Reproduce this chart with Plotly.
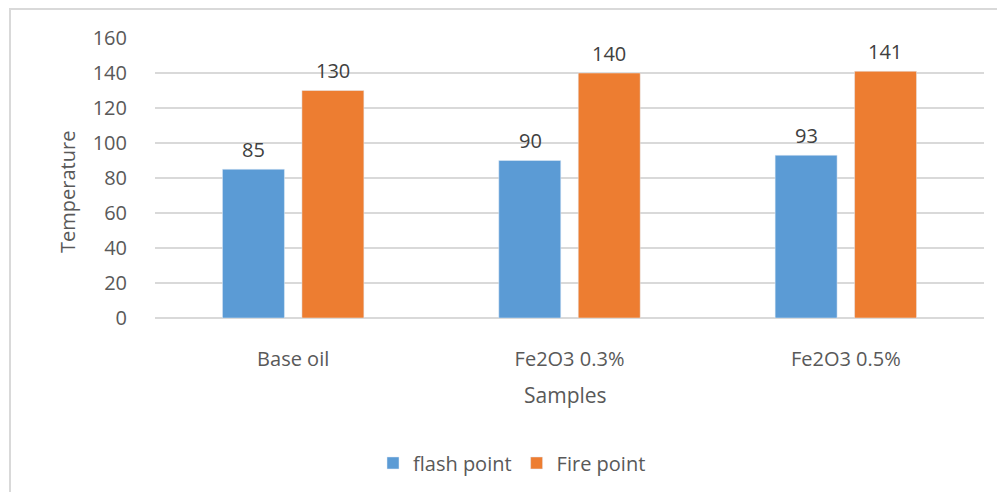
import plotly.graph_objects as go

categories = ["Base oil", "Fe2O3 0.3%", "Fe2O3 0.5%"]
flash_point = [85, 90, 93]
fire_point = [130, 140, 141]
y_ticks = [0, 20, 40, 60, 80, 100, 120, 140, 160]

# page body has an 8px margin; figure coordinates = screen coordinates - 8
OFF = 8
W, H = 1005 - OFF, 492 - OFF
L = 155 - OFF
T = 37.5 - OFF
plot_right = 984 - OFF
plot_bottom = 318.5 - OFF
R = W - plot_right
B = H - plot_bottom
pw, ph = W - L - R, H - T - B

def px(sx):
    return (sx - OFF - L) / pw

def py(sy):
    return (plot_bottom - (sy - OFF)) / ph

FONT = "Open Sans"
TXT = "#595959"
FS = 20

fig = go.Figure()
fig.add_trace(go.Bar(name="flash point", x=categories, y=flash_point, marker_color="#5b9bd5"))
fig.add_trace(go.Bar(name="Fire point", x=categories, y=fire_point, marker_color="#ed7d31"))

fig.update_layout(
    width=W, height=H,
    margin=dict(l=L, r=R, t=T, b=B, autoexpand=False),
    paper_bgcolor="white", plot_bgcolor="white",
    barmode="group", bargap=0.425, bargroupgap=0.22,
    font=dict(family=FONT, color=TXT, size=FS),
    showlegend=True,
    legend=dict(orientation="h", x=px(512), xanchor="center",
                y=py(464), yanchor="middle",
                font=dict(size=FS, color=TXT), itemwidth=30,
                traceorder="normal"),
    xaxis=dict(showgrid=False, showline=False, zeroline=False, ticks="",
               tickfont=dict(size=FS, color=TXT), ticklabelstandoff=27),
    yaxis=dict(range=[0, 160], tickvals=y_ticks, showgrid=True, gridcolor="#d9d9d9",
               gridwidth=1.5, zeroline=True, zerolinecolor="#d9d9d9", zerolinewidth=1.5,
               showline=False, ticks="", tickfont=dict(size=FS, color=TXT),
               ticklabelstandoff=27),
)

# data labels above bars (offset groups via xshift)
bar_offset = 39.5
for series, xs in [(flash_point, -bar_offset), (fire_point, bar_offset)]:
    for c, v in zip(categories, series):
        fig.add_annotation(x=c, y=v, text=str(v), showarrow=False, xref="x", yref="y",
                           xshift=xs, yshift=20, yanchor="middle",
                           font=dict(size=FS, color="#404040", family=FONT))

# axis titles
fig.add_annotation(text="Temperature", xref="paper", yref="paper",
                   x=px(68), y=py(192), textangle=-90,
                   showarrow=False, xanchor="center", yanchor="middle",
                   font=dict(size=FS, color=TXT, family=FONT))
fig.add_annotation(text="Samples", xref="paper", yref="paper",
                   x=px(565), y=py(396),
                   showarrow=False, xanchor="center", yanchor="middle",
                   font=dict(size=21, color=TXT, family=FONT))

# chart border
fig.add_shape(type="rect", xref="paper", yref="paper",
              x0=px(10), x1=px(1030),
              y0=py(520), y1=py(8.5),
              line=dict(color="#d9d9d9", width=2), layer="below")

fig.write_html("out.html")
